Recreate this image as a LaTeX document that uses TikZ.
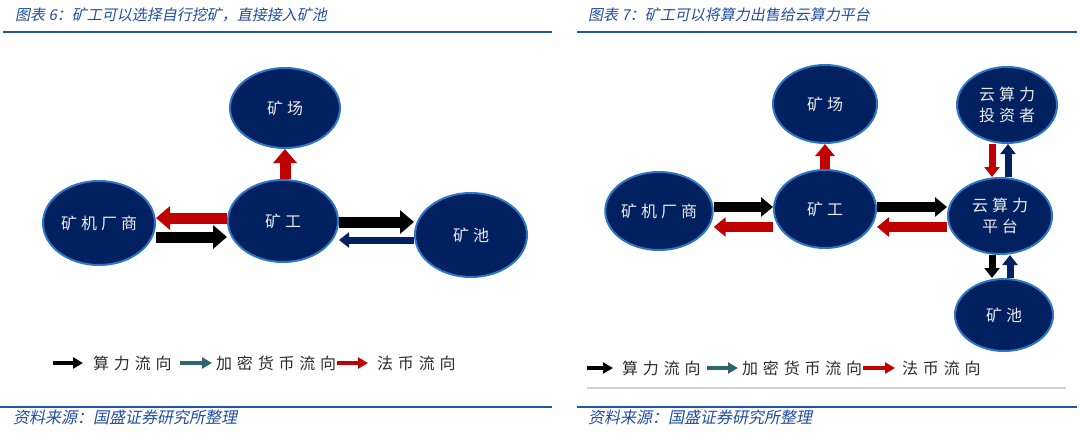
\documentclass[tikz,border=0pt]{standalone}
\usepackage{fontspec}
\usepackage{xcolor}
\usetikzlibrary{arrows.meta}
\usetikzlibrary{shapes.geometric}
\newfontfamily\cjknode{Noto Sans CJK SC}[LetterSpace=25]
\newfontfamily\cjkkey{Noto Sans CJK SC}[LetterSpace=30]
\newfontfamily\cjkslant{Noto Sans CJK SC}[FakeSlant=0.2]
\definecolor{navyfill}{RGB}{0,32,96}
\definecolor{rimblue}{RGB}{46,117,196}
\definecolor{capblue}{RGB}{33,77,160}
\definecolor{ruleblue}{RGB}{32,84,165}
\definecolor{flowred}{RGB}{192,0,0}
\definecolor{flowteal}{RGB}{49,99,112}
\definecolor{keygray}{RGB}{45,45,45}

\tikzset{
  party/.style={ellipse, fill=navyfill, draw=rimblue, line width=2pt, inner sep=0pt,
    text=white!92!black, align=center, font=\cjknode\fontsize{16}{21}\selectfont},
  bigflow/.style={line width=11pt, -{Triangle[length=14pt,width=23pt]}},
  midflow/.style={line width=10pt, -{Triangle[length=12pt,width=19pt]}},
  thinflow/.style={line width=7pt, -{Triangle[length=10pt,width=15pt]}},
  keyflow/.style={line width=4pt, -{Triangle[length=10pt,width=11pt]}},
  caption/.style={anchor=west, inner sep=0pt, text=capblue, font=\cjkslant\fontsize{15}{18}\selectfont},
  keytext/.style={anchor=west, inner sep=0pt, text=keygray, font=\cjkkey\fontsize{16}{18}\selectfont},
  rule/.style={ruleblue, line width=2pt}
}

\begin{document}
\begin{tikzpicture}[x=1pt,y=-1pt]
\useasboundingbox (0,0) rectangle (1080,445);

%%%%%%%%%%   left panel
\node[caption] (capL) at (15,15) {图表 6：矿工可以选择自行挖矿，直接接入矿池};
\draw[rule] (3,32) -- (552,32);

\node[party, minimum width=110pt, minimum height=80pt] (site) at (285,108) {矿场};
\node[party, minimum width=110pt, minimum height=82pt] (wkr) at (283,221) {矿工};
\node[party, minimum width=112pt, minimum height=84pt] (mfr) at (99,223) {矿机厂商};
\node[party, minimum width=112pt, minimum height=84pt] (pool) at (471,235) {矿池};

\draw[bigflow, flowred] (wkr.north -| site.south) -- (site.south);
\draw[bigflow, flowred] ([yshift=3pt]wkr.west) -- ([yshift=5pt]mfr.east);
\draw[bigflow, black] ([yshift=-14pt]mfr.east) -- ([yshift=-16pt]wkr.west);
\draw[bigflow, black] ([yshift=-1pt]wkr.east) -- ([yshift=13pt]pool.west);
\draw[thinflow, navyfill] ([yshift=-5pt]pool.west) -- ([yshift=-19pt]wkr.east);

% legend
\node[keytext] (keyL1) at (93,363) {算力流向};
\node[keytext] (keyL2) at (216,363) {加密货币流向};
\node[keytext] (keyL3) at (377,363) {法币流向};
\draw[keyflow, black] ([xshift=-40pt]keyL1.west) -- ([xshift=-10pt]keyL1.west);
\draw[keyflow, flowteal] ([xshift=-36pt]keyL2.west) -- ([xshift=-4pt]keyL2.west);
\draw[keyflow, flowred] ([xshift=-40pt]keyL3.west) -- ([xshift=-9pt]keyL3.west);

\draw[rule] (0,407) -- (552,407);
\node[caption, font=\cjkslant\fontsize{16}{18}\selectfont] (srcL) at (13,417) {资料来源：国盛证券研究所整理};

%%%%%%%%%%   right panel
\node[caption] (capR) at (588,15) {图表 7：矿工可以将算力出售给云算力平台};
\draw[rule] (577,32) -- (1077,32);

\node[party, minimum width=104pt, minimum height=78pt] (site2) at (825,104) {矿场};
\node[party, minimum width=102pt, minimum height=78pt] (wkr2) at (825,209) {矿工};
\node[party, minimum width=102pt, minimum height=78pt] (mfr2) at (659,211) {矿机厂商};
\node[party, minimum width=100pt, minimum height=76pt] (inv) at (1007,105) {云算力\\投资者};
\node[party, minimum width=104pt, minimum height=76pt] (plat) at (1000,216) {云算力\\平台};
\node[party, minimum width=98pt, minimum height=72pt] (pool2) at (1004,315) {矿池};

\draw[midflow, flowred] (wkr2.north -| site2.south) -- (site2.south);
\draw[midflow, black] ([yshift=4pt]mfr2.east) -- ([yshift=2pt]wkr2.west);
\draw[midflow, flowred] ([yshift=-18pt]wkr2.west) -- ([yshift=-16pt]mfr2.east);
\draw[midflow, black] ([yshift=2pt]wkr2.east) -- ([yshift=9pt]plat.west);
\draw[midflow, flowred] ([yshift=-11pt]plat.west) -- ([yshift=-18pt]wkr2.east);
\draw[thinflow, flowred] ([xshift=-15pt]inv.south) -- ([xshift=-8pt]plat.north);
\draw[thinflow, navyfill] ([xshift=8pt]plat.north) -- ([xshift=1pt]inv.south);
\draw[thinflow, black] ([xshift=-8pt]plat.south) -- ([xshift=-12pt]pool2.north);
\draw[thinflow, navyfill] ([xshift=6pt]pool2.north) -- ([xshift=10pt]plat.south);

% legend
\node[keytext] (keyR1) at (622,368) {算力流向};
\node[keytext] (keyR2) at (742,368) {加密货币流向};
\node[keytext] (keyR3) at (902,368) {法币流向};
\draw[keyflow, black] ([xshift=-35pt]keyR1.west) -- ([xshift=-9pt]keyR1.west);
\draw[keyflow, flowteal] ([xshift=-35pt]keyR2.west) -- ([xshift=-4pt]keyR2.west);
\draw[keyflow, flowred] ([xshift=-39pt]keyR3.west) -- ([xshift=-7pt]keyR3.west);
\draw[black!18, line width=2pt] (587,388) -- (1066,388);

\draw[rule] (577,407) -- (1077,407);
\node[caption, font=\cjkslant\fontsize{16}{18}\selectfont] (srcR) at (588,417) {资料来源：国盛证券研究所整理};

\end{tikzpicture}
\end{document}
